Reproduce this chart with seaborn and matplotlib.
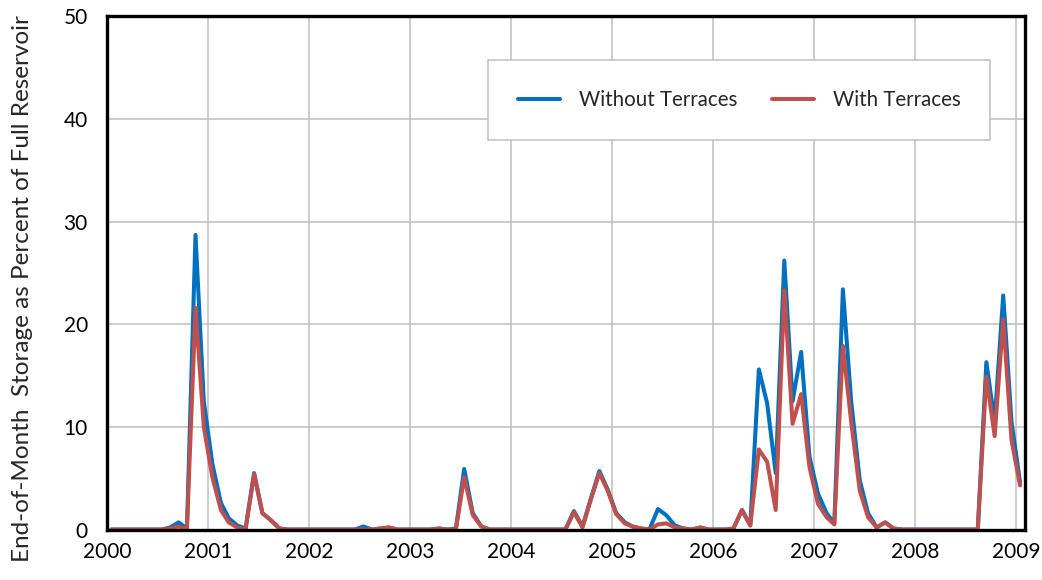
import pandas as pd
import numpy as np
import matplotlib
matplotlib.use("Agg")
import matplotlib.pyplot as plt
import seaborn as sns

# Monthly end-of-month storage (% of full reservoir), Jan 2000 - Jan 2009
without_terraces = [
    # 2000
    0, 0, 0, 0, 0, 0, 0, 0.2, 0.7, 0.1, 28.7, 12.5,
    # 2001
    6.4, 2.6, 1.1, 0.4, 0.1, 5.5, 1.6, 0.9, 0.1, 0, 0, 0,
    # 2002
    0, 0, 0, 0, 0, 0, 0.3, 0, 0.1, 0.2, 0, 0,
    # 2003
    0, 0, 0, 0.1, 0, 0.1, 5.9, 1.6, 0.3, 0, 0, 0,
    # 2004
    0, 0, 0, 0, 0, 0, 0, 1.8, 0.3, 3.0, 5.7, 3.9,
    # 2005
    1.6, 0.7, 0.3, 0.1, 0, 2.0, 1.4, 0.4, 0.1, 0, 0.2, 0,
    # 2006
    0, 0, 0.1, 1.9, 0.4, 15.6, 12.3, 5.5, 26.2, 12.5, 17.3, 7.1,
    # 2007
    3.5, 1.6, 0.6, 23.4, 12.5, 4.8, 1.6, 0.2, 0.7, 0.1, 0, 0,
    # 2008
    0, 0, 0, 0, 0, 0, 0, 0, 16.3, 10.5, 22.8, 10.5,
    # 2009
    4.6,
]

with_terraces = [
    # 2000
    0, 0, 0, 0, 0, 0, 0, 0.1, 0.3, 0, 21.6, 10.0,
    # 2001
    5.1, 1.9, 0.7, 0.2, 0, 5.4, 1.6, 0.9, 0.1, 0, 0, 0,
    # 2002
    0, 0, 0, 0, 0, 0, 0, 0, 0.1, 0.2, 0, 0,
    # 2003
    0, 0, 0, 0.1, 0, 0, 5.1, 1.4, 0.3, 0, 0, 0,
    # 2004
    0, 0, 0, 0, 0, 0, 0, 1.7, 0.2, 2.9, 5.5, 3.8,
    # 2005
    1.5, 0.6, 0.3, 0.1, 0, 0.5, 0.6, 0.2, 0.1, 0, 0.2, 0,
    # 2006
    0, 0, 0.1, 1.9, 0.4, 7.8, 6.6, 1.9, 23.3, 10.3, 13.2, 6.1,
    # 2007
    2.5, 1.2, 0.5, 17.9, 10.5, 3.8, 1.2, 0.2, 0.7, 0.1, 0, 0,
    # 2008
    0, 0, 0, 0, 0, 0, 0, 0, 14.9, 9.1, 20.5, 8.7,
    # 2009
    4.3,
]

series_names = ["Without Terraces", "With Terraces"]
series_colors = ["#0070C0", "#C0504D"]
year_ticks = list(range(2000, 2010))

# Mid-month dates for each value
months = pd.date_range("2000-01-01", periods=len(without_terraces), freq="MS") + pd.Timedelta(days=14)

df = pd.concat([
    pd.DataFrame({"date": months, "storage": without_terraces, "series": series_names[0]}),
    pd.DataFrame({"date": months, "storage": with_terraces, "series": series_names[1]}),
])

sns.set_style("white")
plt.rcParams["font.family"] = ["Lato", "DejaVu Sans"]

fig = plt.figure(figsize=(10.42, 5.8), dpi=100)
ax = fig.add_axes([0.103, 0.087, 0.881, 0.885])

sns.lineplot(
    data=df, x="date", y="storage", hue="series",
    hue_order=series_names, palette=series_colors,
    linewidth=2.9, ax=ax,
)

# Axes limits and ticks
ax.set_ylim(0, 50)
ax.set_yticks([0, 10, 20, 30, 40, 50])
ax.set_xlim(pd.Timestamp("2000-01-01"), pd.Timestamp("2009-02-03"))
ax.set_xticks([pd.Timestamp(f"{y}-01-01") for y in year_ticks])
ax.set_xticklabels([str(y) for y in year_ticks])
ax.tick_params(axis="both", length=0, labelsize=15, colors="black")
ax.tick_params(axis="y", pad=14)
ax.tick_params(axis="x", pad=9)

ax.grid(True, color="#BFBFBF", linewidth=1.1)
ax.set_axisbelow(True)
for spine in ax.spines.values():
    spine.set_color("black")
    spine.set_linewidth(2.4)

ax.set_xlabel("")
ax.set_ylabel("End-of-Month  Storage as Percent of Full Reservoir", fontsize=17.5)
ax.yaxis.set_label_coords(-0.081, 0.47)

# Legend
handles, labels = ax.get_legend_handles_labels()
leg = ax.legend(
    handles, labels, ncol=2, loc="upper left",
    bbox_to_anchor=(0.415, 0.914), borderaxespad=0, fontsize=14.8,
    frameon=True, fancybox=False, edgecolor="#BFBFBF", framealpha=1,
    borderpad=1.45, handlelength=2.05, handletextpad=0.9, columnspacing=1.7,
)
leg.get_frame().set_linewidth(1.1)

fig.savefig("out.png", dpi=100)
plt.close(fig)
